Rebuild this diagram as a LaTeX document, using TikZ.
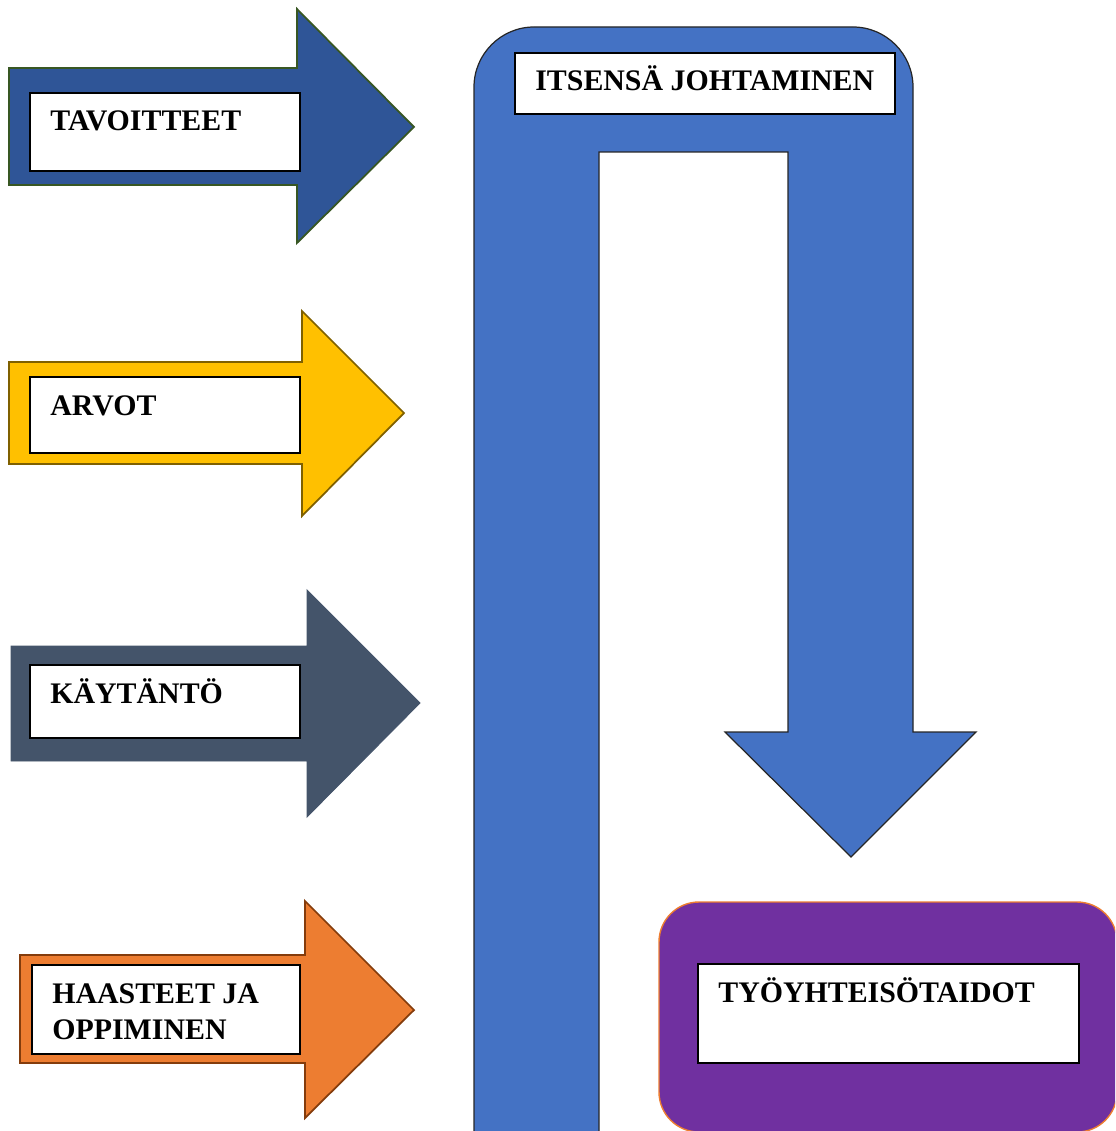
\documentclass[tikz,border=0pt]{standalone}
\usepackage{fontspec}
\setmainfont{Liberation Serif}
\definecolor{goalblue}{HTML}{2F5597}
\definecolor{goalline}{HTML}{385723}
\definecolor{valueyellow}{HTML}{FFC000}
\definecolor{valueline}{HTML}{7F6000}
\definecolor{practslate}{HTML}{44546A}
\definecolor{challorange}{HTML}{ED7D31}
\definecolor{challline}{HTML}{843C0C}
\definecolor{selfblue}{HTML}{4472C4}
\definecolor{teampurple}{HTML}{7030A0}
\usetikzlibrary{positioning}
\tikzset{
  lblbox/.style={draw=black,fill=white,line width=1pt,inner sep=0pt},
  lbltext/.style={anchor=base west,inner sep=0pt,
    font=\fontsize{17}{20.4}\selectfont\bfseries},
  bigarrow/.style={line width=1pt,line join=miter}
}

\begin{document}
\begin{tikzpicture}[x=0.02cm,y=-0.02cm]
        \useasboundingbox (0,0) rectangle (1115,1131);
        \clip (0,0) rectangle (1115,1131);
        % the four arrows on the left
        \draw[bigarrow,fill=goalblue,draw=goalline]
          (9,68)--(297,68)--(297,9)--(414,127)--(297,243)--(297,185)--(9,185)--cycle;
        \draw[bigarrow,fill=valueyellow,draw=valueline]
          (9,362)--(302,362)--(302,311)--(404,413)--(302,516)--(302,464)--(9,464)--cycle;
        \draw[bigarrow,fill=practslate,draw=practslate,line width=0.5pt]
          (11,646)--(307,646)--(307,590)--(420,703)--(307,817)--(307,761)--(11,761)--cycle;
        \draw[bigarrow,fill=challorange,draw=challline]
          (20,955)--(305,955)--(305,901)--(414,1010)--(305,1118)--(305,1063)--(20,1063)--cycle;
        % u-turn arrow
        \draw[fill=selfblue,draw=black!85,line width=0.7pt]
          (474,1145)--(474,87) .. controls (474,54) and (501,27) .. (534,27)
          --(853,27) .. controls (886,27) and (913,54) .. (913,87)
          --(913,732)--(976,732)--(851,857)--(725,732)--(788,732)
          --(788,152)--(599,152)--(599,1145)--cycle;
        % purple box
        \draw[fill=teampurple,draw=challorange,line width=0.8pt,rounded corners=0.8cm]
          (659,902) rectangle (1117,1132);
        % label boxes
        \node[lblbox,minimum width=5.4cm,minimum height=1.56cm] (tavBox) at (165,132) {};
        \node[lblbox,minimum width=5.4cm,minimum height=1.52cm] (arvBox) at (165,415) {};
        \node[lblbox,minimum width=5.4cm,minimum height=1.46cm] (kayBox) at (165,701.5) {};
        \node[lblbox,minimum width=5.36cm,minimum height=1.78cm] (haaBox) at (166,1009.5) {};
        \node[lblbox,minimum width=7.6cm,minimum height=1.22cm] (itsBox) at (705,83.5) {};
        \node[lblbox,minimum width=7.62cm,minimum height=1.98cm] (tyoBox) at (888.5,1013.5) {};
        % texts
        \node[lbltext] (tavText) at (50,131) {TAVOITTEET};
        \node[lbltext] (arvText) at (50,415) {ARVOT};
        \node[lbltext] (kayText) at (50,703) {KÄYTÄNTÖ};
        \node[lbltext] (haaText) at (52,1003) {HAASTEET JA};
        \node[lbltext] (oppText) at (52,1039) {OPPIMINEN};
        \node[lbltext] (itsText) at (535,91) {ITSENSÄ JOHTAMINEN};
        \node[lbltext] (tyoText) at (718,1002) {TYÖYHTEISÖTAIDOT};
\end{tikzpicture}
\end{document}
